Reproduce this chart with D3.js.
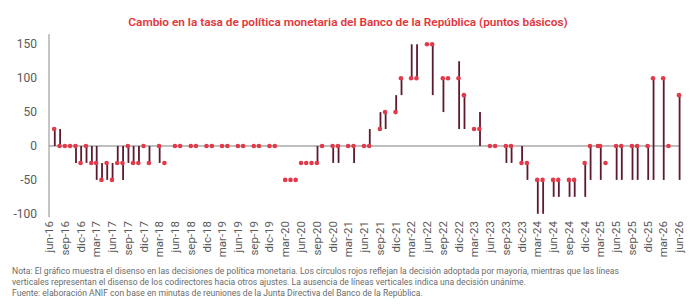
<!DOCTYPE html>
<html>
<head>
<meta charset="utf-8">
<script src="https://cdn.jsdelivr.net/npm/d3@7"></script>
<style>
  body { margin: 0; background: #fff; }
  svg { display: block; font-family: Roboto, "Liberation Sans", sans-serif; }
</style>
</head>
<body>
<div id="chart"></div>
<script>
'use strict';

// meeting months (policy decisions), one entry per red dot
var meetings = [
  "2016-07","2016-08","2016-09","2016-10","2016-11","2016-12",
  "2017-01","2017-02","2017-03","2017-04","2017-05","2017-06","2017-07","2017-08","2017-09","2017-10","2017-11","2017-12",
  "2018-01","2018-03","2018-04","2018-06","2018-07","2018-09","2018-10","2018-12",
  "2019-01","2019-03","2019-04","2019-06","2019-07","2019-09","2019-10","2019-12",
  "2020-01","2020-03","2020-04","2020-05","2020-06","2020-07","2020-08","2020-09","2020-10","2020-12",
  "2021-01","2021-03","2021-04","2021-06","2021-07","2021-09","2021-10","2021-12",
  "2022-01","2022-03","2022-04","2022-06","2022-07","2022-09","2022-10","2022-12",
  "2023-01","2023-03","2023-04","2023-06","2023-07","2023-09","2023-10","2023-12",
  "2024-01","2024-03","2024-04","2024-06","2024-07","2024-09","2024-10","2024-12",
  "2025-01","2025-02-16","2025-03","2025-04","2025-06","2025-07","2025-09","2025-10","2025-12",
  "2026-01","2026-03","2026-04","2026-06"
];
// majority decision (bp)
var decision = [
  25,0,0,0,0,-25,
  0,-25,-25,-50,-25,-50,-25,-25,0,-25,-25,0,
  -25,0,-25,0,0,0,0,0,
  0,0,0,0,0,0,0,0,
  0,-50,-50,-50,-25,-25,-25,-25,0,0,
  0,0,0,0,0,25,50,50,
  100,100,100,150,150,100,100,100,
  75,25,25,0,0,0,0,-25,
  -25,-50,-50,-50,-50,-50,-50,-25,
  0,0,0,-25,0,0,0,0,0,
  100,100,0,75
];
// lowest and highest vote of the board (dissent range)
var voteLow = [
  0,0,0,0,-25,-25,
  -25,-25,-50,-50,-50,-50,-25,-50,-25,-25,-25,0,
  -25,-25,-25,0,0,0,0,0,
  0,0,0,0,0,0,0,0,
  0,-50,-50,-50,-25,-25,-25,-25,0,-25,
  -25,0,-25,0,0,25,25,50,
  75,100,100,150,75,50,100,25,
  25,25,0,0,0,-25,-25,-25,
  -50,-100,-100,-75,-75,-75,-75,-75,
  -50,0,-50,-25,-50,-50,-50,-50,-50,
  -50,-50,0,-50
];
var voteHigh = [
  25,25,0,0,0,0,
  0,0,0,-25,-25,-25,0,0,0,0,0,0,
  0,0,-25,0,0,0,0,0,
  0,0,0,0,0,0,0,0,
  0,-50,-50,-50,-25,-25,-25,0,0,0,
  0,0,0,0,25,50,50,75,
  100,150,150,150,150,100,100,125,
  75,25,50,0,0,0,0,0,
  -25,-50,-50,-50,-50,-50,-50,-25,
  0,0,0,-25,0,0,0,0,0,
  100,100,0,75
];
var yTicks = [-100, -50, 0, 50, 100, 150];

var title = "Cambio en la tasa de política monetaria del Banco de la República (puntos básicos)";
var notes = [
  "Nota: El gráfico muestra el disenso en las decisiones de política monetaria. Los círculos rojos reflejan la decisión adoptada por mayoría, mientras que las líneas",
  "verticales representan el disenso de los codirectores hacia otros ajustes. La ausencia de líneas verticales indica una decisión unánime.",
  "Fuente: elaboración ANIF con base en minutas de reuniones de la Junta Directiva del Banco de la República."
];

var width = 700, height = 304;
var parse = function(s){ return s.length > 7 ? d3.timeParse("%Y-%m-%d")(s) : d3.timeParse("%Y-%m")(s); };
var months = ["ene","feb","mar","abr","may","jun","jul","ago","sep","oct","nov","dic"];

var data = meetings.map(function(m, i){
  return {date: parse(m), value: decision[i], lo: voteLow[i], hi: voteHigh[i]};
});

var x = d3.scaleTime()
  .domain([new Date(2016, 5, 1), new Date(2026, 5, 1)])
  .range([49, 679]);
var y = d3.scaleLinear().domain([-105, 165]).range([217.2, 34.1]);

var svg = d3.select("#chart").append("svg")
  .attr("width", width).attr("height", height);

svg.append("text")
  .attr("x", 348).attr("y", 26)
  .attr("text-anchor", "middle")
  .attr("fill", "#e2363c")
  .style("font-size", "11.8px").style("font-weight", 600)
  .text(title);

// y axis line + labels
svg.append("line")
  .attr("x1", x.range()[0]).attr("x2", x.range()[0])
  .attr("y1", y.range()[1]).attr("y2", y.range()[0])
  .attr("stroke", "#8c8c8c").attr("stroke-width", 1);

svg.append("g").selectAll("text").data(yTicks).enter().append("text")
  .attr("x", 37).attr("y", function(d){ return y(d); })
  .attr("dy", "0.35em").attr("text-anchor", "end")
  .attr("fill", "#5a5a5a").style("font-size", "12px")
  .text(function(d){ return d; });

// zero line
svg.append("line")
  .attr("x1", x.range()[0]).attr("x2", x.range()[1])
  .attr("y1", y(0)).attr("y2", y(0))
  .attr("stroke", "#7f7f7f").attr("stroke-width", 1);

// x labels every 3 months, starting jun-16
var xTicks = d3.timeMonth.range(new Date(2016, 5, 1), new Date(2026, 6, 1), 3);
svg.append("g").selectAll("text").data(xTicks).enter().append("text")
  .attr("transform", function(d){ return "translate(" + x(d) + ",221) rotate(-90)"; })
  .attr("dy", "0.35em").attr("text-anchor", "end")
  .attr("fill", "#5a5a5a").style("font-size", "11.5px")
  .text(function(d){ return months[d.getMonth()] + "-" + d3.timeFormat("%y")(d); });

// dissent lines
svg.append("g").selectAll("line")
  .data(data.filter(function(d){ return d.lo !== d.hi; }))
  .enter().append("line")
  .attr("x1", function(d){ return x(d.date) + 0.6; })
  .attr("x2", function(d){ return x(d.date) + 0.6; })
  .attr("y1", function(d){ return y(d.lo); })
  .attr("y2", function(d){ return y(d.hi); })
  .attr("stroke", "#5c1a2c").attr("stroke-width", 1.8);

// majority decision dots
svg.append("g").selectAll("circle").data(data).enter().append("circle")
  .attr("cx", function(d){ return x(d.date); })
  .attr("cy", function(d){ return y(d.value); })
  .attr("r", 2.3)
  .attr("fill", "#e23a4b");

svg.append("g").selectAll("text").data(notes).enter().append("text")
  .attr("x", 12).attr("y", function(d, i){ return 274 + i * 10.8; })
  .attr("fill", "#6b6b6b").style("font-size", "8.6px")
  .text(function(d){ return d; });
</script>
</body>
</html>
